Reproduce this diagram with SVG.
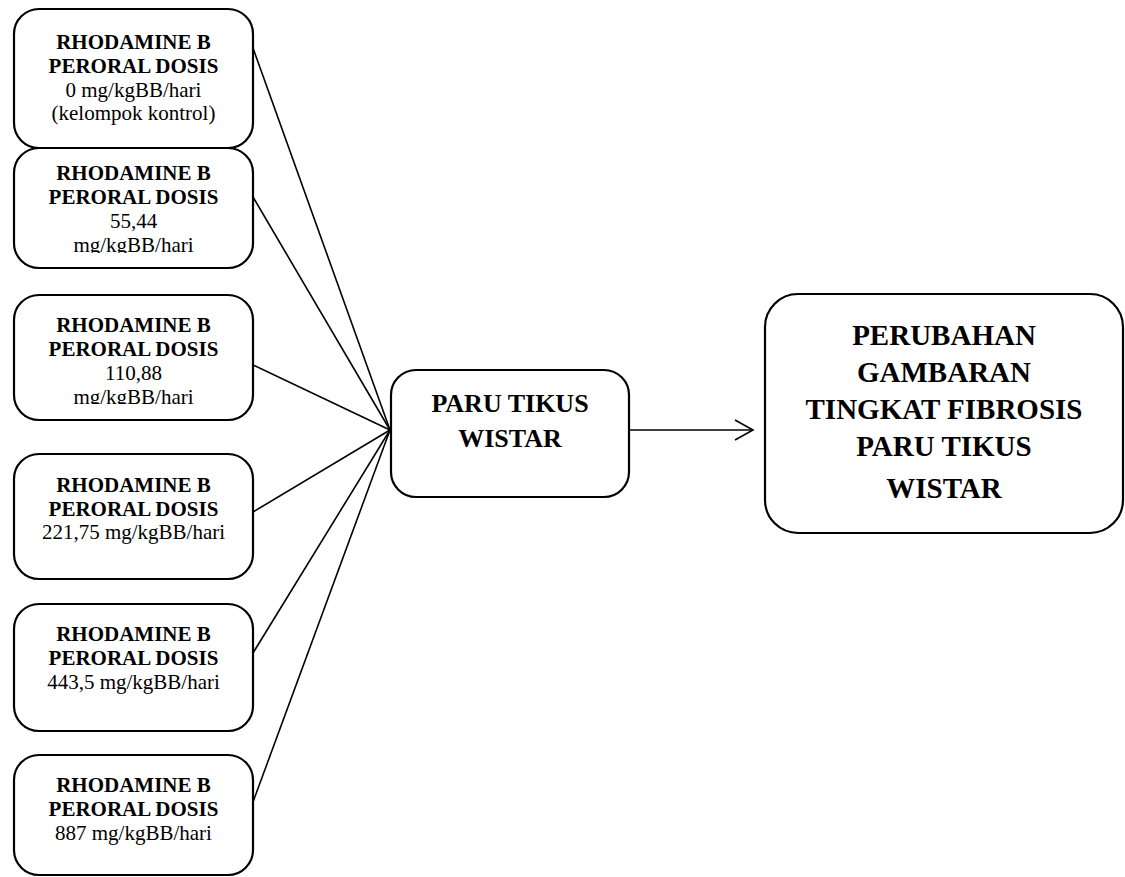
<svg xmlns="http://www.w3.org/2000/svg" width="1125" height="877" viewBox="0 0 1125 877">
<style>
.box{fill:#fff;stroke:#000;stroke-width:2.2}
.b{font-family:"Liberation Serif","Times New Roman",serif;font-weight:bold;font-size:21px;fill:#000;text-anchor:middle}
.r{font-family:"Liberation Serif","Times New Roman",serif;font-size:21px;fill:#000;text-anchor:middle}
.m{font-family:"Liberation Serif","Times New Roman",serif;font-weight:bold;font-size:26px;fill:#000;text-anchor:middle}
.g{font-family:"Liberation Serif","Times New Roman",serif;font-weight:bold;font-size:29px;fill:#000;text-anchor:middle}
.c{fill:none;stroke:#000;stroke-width:1.6}
</style>
<defs>
<clipPath id="clip2"><rect x="14" y="147" width="240" height="106"/></clipPath>
<clipPath id="clip3"><rect x="14" y="295" width="240" height="109"/></clipPath>
</defs>
<rect width="1125" height="877" fill="#fff"/>
<g id="connectors">
<line class="c" x1="253" y1="48" x2="390" y2="430"/>
<line class="c" x1="253" y1="197" x2="390" y2="430"/>
<line class="c" x1="253" y1="365" x2="390" y2="430"/>
<line class="c" x1="253" y1="512" x2="390" y2="430"/>
<line class="c" x1="253" y1="653" x2="390" y2="430"/>
<line class="c" x1="253" y1="802" x2="390" y2="430"/>
<line class="c" x1="629" y1="430" x2="752" y2="430"/>
<polyline class="c" points="735,420 753,430 735,440"/>
</g>
<g id="box1">
<rect class="box" x="14" y="9" width="239" height="139" rx="25"/>
<text class="b" x="133.5" y="49">RHODAMINE B</text>
<text class="b" x="133.5" y="73">PERORAL DOSIS</text>
<text class="r" x="133.5" y="97">0 mg/kgBB/hari</text>
<text class="r" x="133.5" y="120">(kelompok kontrol)</text>
</g>
<g id="box2">
<rect class="box" x="14" y="148" width="239" height="120" rx="25"/>
<g clip-path="url(#clip2)">
<text class="b" x="133.5" y="180">RHODAMINE B</text>
<text class="b" x="133.5" y="204">PERORAL DOSIS</text>
<text class="r" x="133.5" y="228">55,44</text>
<text class="r" x="133.5" y="252">mg/kgBB/hari</text>
</g>
</g>
<g id="box3">
<rect class="box" x="14" y="295" width="239" height="125" rx="25"/>
<g clip-path="url(#clip3)">
<text class="b" x="133.5" y="332">RHODAMINE B</text>
<text class="b" x="133.5" y="356">PERORAL DOSIS</text>
<text class="r" x="133.5" y="380">110,88</text>
<text class="r" x="133.5" y="404">mg/kgBB/hari</text>
</g>
</g>
<g id="box4">
<rect class="box" x="14" y="454" width="239" height="125" rx="25"/>
<text class="b" x="133.5" y="492">RHODAMINE B</text>
<text class="b" x="133.5" y="516">PERORAL DOSIS</text>
<text class="r" x="133.5" y="539">221,75 mg/kgBB/hari</text>
</g>
<g id="box5">
<rect class="box" x="14" y="604" width="239" height="127" rx="25"/>
<text class="b" x="133.5" y="641">RHODAMINE B</text>
<text class="b" x="133.5" y="665">PERORAL DOSIS</text>
<text class="r" x="133.5" y="689">443,5 mg/kgBB/hari</text>
</g>
<g id="box6">
<rect class="box" x="14" y="755" width="239" height="120" rx="25"/>
<text class="b" x="133.5" y="792">RHODAMINE B</text>
<text class="b" x="133.5" y="816">PERORAL DOSIS</text>
<text class="r" x="133.5" y="840">887 mg/kgBB/hari</text>
</g>
<g id="paru">
<rect class="box" x="391" y="370" width="238" height="127" rx="25"/>
<text class="m" x="510" y="412">PARU TIKUS</text>
<text class="m" x="510" y="447">WISTAR</text>
</g>
<g id="hasil">
<rect class="box" x="765" y="294" width="358" height="239" rx="33"/>
<text class="g" x="944" y="345">PERUBAHAN</text>
<text class="g" x="944" y="382">GAMBARAN</text>
<text class="g" x="944" y="419">TINGKAT FIBROSIS</text>
<text class="g" x="944" y="456">PARU TIKUS</text>
<text class="g" x="944" y="498">WISTAR</text>
</g>
</svg>
